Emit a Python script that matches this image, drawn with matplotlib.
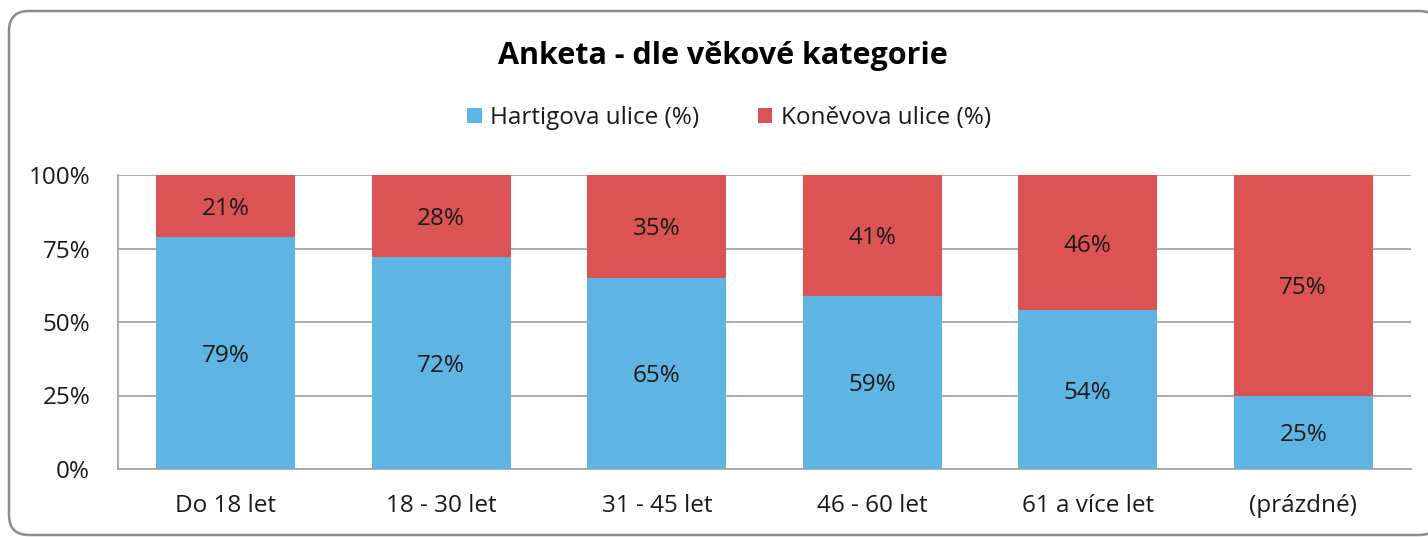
import numpy as np
import matplotlib.pyplot as plt
from matplotlib.patches import FancyBboxPatch
from matplotlib.ticker import FixedLocator, FuncFormatter

plt.rcParams['font.family'] = ['Open Sans', 'DejaVu Sans']

kategorie = ["Do 18 let", "18 - 30 let", "31 - 45 let", "46 - 60 let", "61 a více let", "(prázdné)"]
hartigova = [79, 72, 65, 59, 54, 25]
konevova = [21, 28, 35, 41, 46, 75]
nazvy = ["Hartigova ulice (%)", "Koněvova ulice (%)"]
barvy = ["#5EB5E3", "#DB5355"]

W, H = 1428, 537
fig = plt.figure(figsize=(W / 100, H / 100), dpi=100)

# ramecek grafu
ram = FancyBboxPatch((9 / W, 2 / H), 1430 / W, 524 / H,
                     boxstyle="round,pad=0,rounding_size=0.014",
                     transform=fig.transFigure, facecolor="white",
                     edgecolor="#8c8c8c", linewidth=1.8, mutation_aspect=W / H,
                     zorder=-5)
fig.patches.append(ram)

ax = fig.add_axes([118 / W, 1 - 469 / H, (1411 - 118) / W, (469 - 175) / H])
ax.set_facecolor("none")
ax.set_zorder(2)

fs = 17.5
x = np.arange(len(kategorie))
b1 = ax.bar(x, hartigova, width=0.645, color=barvy[0], label=nazvy[0], zorder=3)
b2 = ax.bar(x, konevova, width=0.645, bottom=hartigova, color=barvy[1], label=nazvy[1], zorder=3)

for rect, v in zip(b1, hartigova):
    ax.text(rect.get_x() + rect.get_width() / 2, v / 2, f"{v}%",
            ha="center", va="center_baseline", fontsize=fs, color="#1a1a1a", zorder=4)
for rect, v, d in zip(b2, konevova, hartigova):
    ax.text(rect.get_x() + rect.get_width() / 2, d + v / 2, f"{v}%",
            ha="center", va="center_baseline", fontsize=fs, color="#1a1a1a", zorder=4)

ax.set_xlim(-0.5, len(kategorie) - 0.5)
ax.set_ylim(0, 100)
ax.yaxis.set_major_locator(FixedLocator([0, 25, 50, 75, 100]))
ax.yaxis.set_major_formatter(FuncFormatter(lambda v, p: f"{v:.0f}%"))
ax.set_xticks(x)
ax.set_xticklabels(kategorie)
ax.tick_params(axis="both", length=0, labelsize=fs, colors="#1a1a1a")
ax.tick_params(axis="y", pad=20)
ax.tick_params(axis="x", pad=18)
ax.grid(axis="y", color="#a6a6a6", linewidth=1.3, zorder=0)
for s in ["top", "right"]:
    ax.spines[s].set_visible(False)
for s in ["left", "bottom"]:
    ax.spines[s].set_color("#a6a6a6")
    ax.spines[s].set_linewidth(1.3)

fig.text(723 / W, 1 - 56 / H, "Anketa - dle věkové kategorie", ha="center", va="center",
         fontsize=22, fontweight="bold", color="#000000")
fig.legend(loc="center", bbox_to_anchor=(729 / W, 1 - 118 / H), ncol=2, frameon=False,
           fontsize=fs, handlelength=0.6, handleheight=0.6, handletextpad=0.35,
           columnspacing=2.4, labelcolor="#1a1a1a")

fig.savefig("out.png", dpi=100)
